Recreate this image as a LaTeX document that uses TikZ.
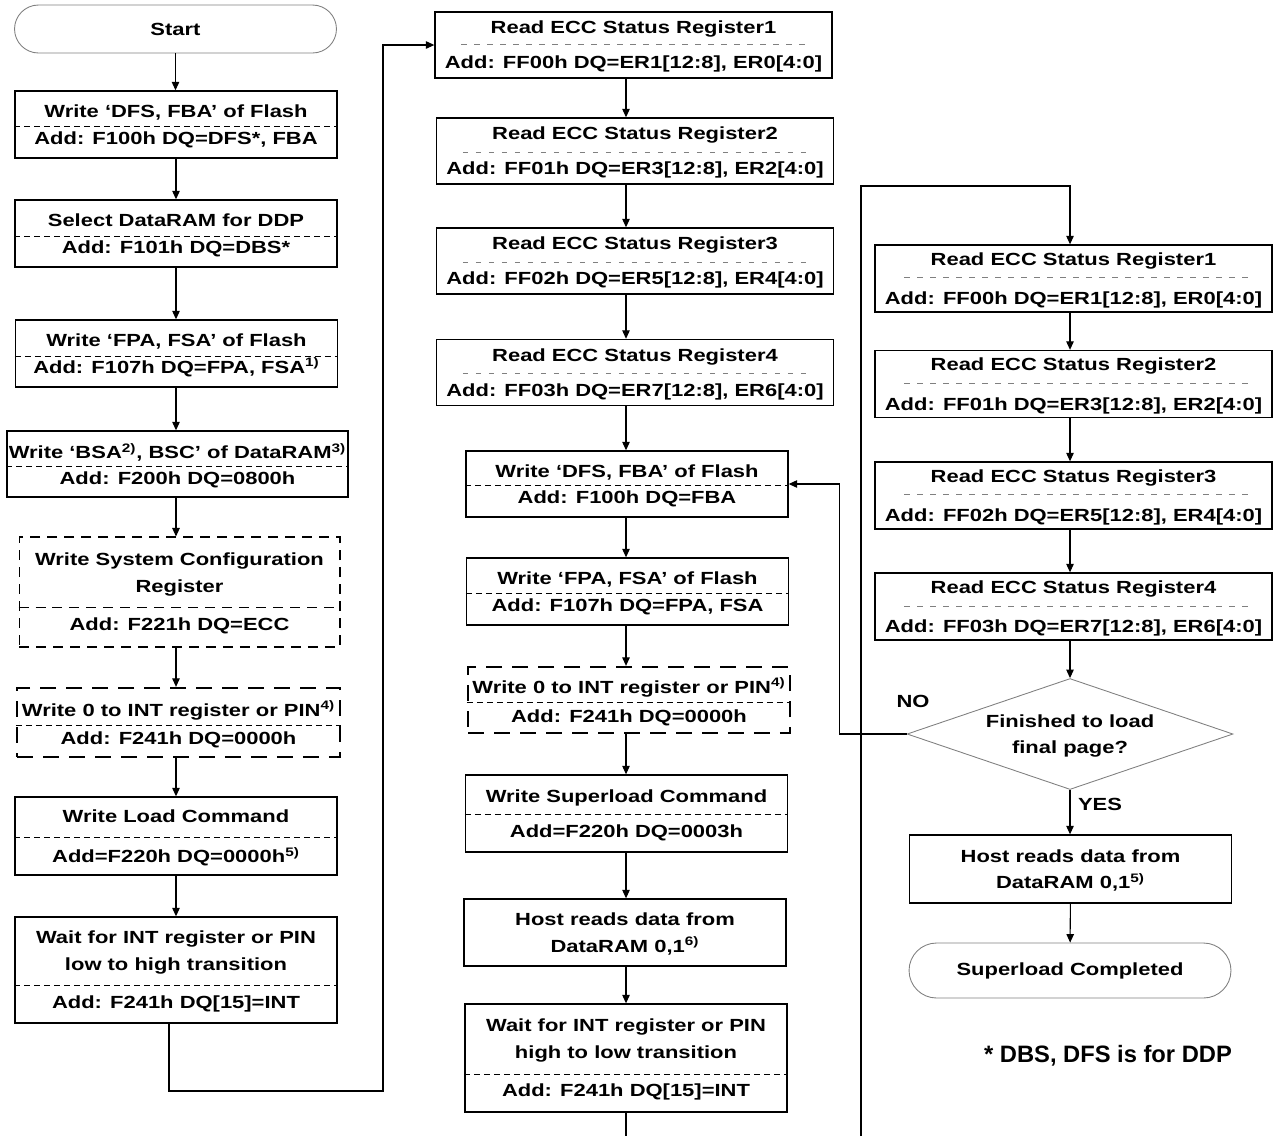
\documentclass[tikz,border=0pt]{standalone}
\usepackage{fontspec}
\setmainfont{Liberation Sans}[FakeStretch=1.25]
\newfontfamily\notefont{Liberation Sans}
\usetikzlibrary{arrows.meta,shapes.geometric}

\begin{document}
\begin{tikzpicture}[
  x=0.02cm, y=-0.02cm,
  font=\fontsize{10}{15}\selectfont\bfseries,
  stepbox/.style={
    draw,
    line width=0.8pt,
    align=center,
    text depth=0pt,
    inner sep=1pt,
    minimum width=6.44cm,
    minimum height=1.34cm
  },
  eccbox/.style={stepbox, minimum width=7.94cm, minimum height=1.32cm},
  thindash/.style={stepbox, line width=0.6pt, dash pattern=on 2mm off 1.4mm},
  thickdash/.style={stepbox, line width=1.3pt, dash pattern=on 3.2mm off 2mm},
  terminal/.style={
    draw=gray,
    line width=0.5pt,
    rounded corners=0.48cm,
    minimum width=6.44cm,
    minimum height=0.96cm
  },
  decision/.style={
    draw=gray,
    line width=0.5pt,
    diamond,
    aspect=2.94,
    inner sep=0pt,
    minimum width=6.52cm,
    minimum height=2.22cm,
    align=center,
    text depth=0pt
  },
  sepline/.style={line width=0.5pt, dash pattern=on 1.2mm off 0.8mm},
  eccsep/.style={gray, line width=0.5pt, dash pattern=on 1.1mm off 1.5mm},
  arrow/.style={-{Triangle[length=1.7mm,width=1.5mm]}, line width=0.6pt},
  wire/.style={line width=0.6pt}
]
\useasboundingbox (0,0) rectangle (1273,1136);

% load column
\node[terminal] (start) at (175.5,29) {Start};
\node[stepbox] (flashaddr) at (176,124.5) {Write ‘DFS, FBA’ of Flash\\Add: F100h DQ=DFS*, FBA};
\node[stepbox] (ddpsel) at (176,233.5) {Select DataRAM for DDP\\Add: F101h DQ=DBS*};
\node[stepbox] (pageaddr) at (176.5,353.5) {Write ‘FPA, FSA’ of Flash\\Add: F107h DQ=FPA, FSA\textsuperscript{1)}};
\node[stepbox, minimum width=6.82cm, minimum height=1.32cm] (bufaddr) at (177.5,464) {Write ‘BSA\textsuperscript{2)}, BSC’ of DataRAM\textsuperscript{3)}\\Add: F200h DQ=0800h};
\node[thindash, minimum width=6.42cm, minimum height=2.2cm] (syscfg) at (179.5,592) {Write System Configuration\\Register\\[7pt]Add: F221h DQ=ECC};
\node[thickdash, minimum width=6.46cm, minimum height=1.38cm] (intclr) at (178.5,722.5) {Write 0 to INT register or PIN\textsuperscript{4)}\\[1pt]Add: F241h DQ=0000h};
\node[stepbox, minimum height=1.56cm] (loadcmd) at (176,836) {Write Load Command\\[8pt]Add=F220h DQ=0000h\textsuperscript{5)}};
\node[stepbox, minimum height=2.12cm] (loadwait) at (176,970) {Wait for INT register or PIN\\low to high transition\\[7pt]Add: F241h DQ[15]=INT};

% superload column
\node[eccbox] (ecca1) at (633.5,45) {Read ECC Status Register1\\[5pt]Add: FF00h DQ=ER1[12:8], ER0[4:0]};
\node[eccbox] (ecca2) at (635,151) {Read ECC Status Register2\\[5pt]Add: FF01h DQ=ER3[12:8], ER2[4:0]};
\node[eccbox] (ecca3) at (635,261) {Read ECC Status Register3\\[5pt]Add: FF02h DQ=ER5[12:8], ER4[4:0]};
\node[eccbox] (ecca4) at (635,372.5) {Read ECC Status Register4\\[5pt]Add: FF03h DQ=ER7[12:8], ER6[4:0]};
\node[stepbox, minimum height=1.32cm] (nextblk) at (627,484) {Write ‘DFS, FBA’ of Flash\\Add: F100h DQ=FBA};
\node[stepbox] (nextpage) at (627.5,591.5) {Write ‘FPA, FSA’ of Flash\\Add: F107h DQ=FPA, FSA};
\node[thickdash, minimum height=1.32cm] (intclrb) at (629,700) {Write 0 to INT register or PIN\textsuperscript{4)}\\[1.5pt]Add: F241h DQ=0000h};
\node[stepbox, minimum height=1.54cm] (supercmd) at (626.5,813.5) {Write Superload Command\\[5pt]Add=F220h DQ=0003h};
\node[stepbox] (hostreada) at (625,932.5) {Host reads data from\\DataRAM 0,1\textsuperscript{6)}};
\node[stepbox, minimum height=2.16cm] (superwait) at (626,1058) {Wait for INT register or PIN\\high to low transition\\[7pt]Add: F241h DQ[15]=INT};

% last page column
\node[eccbox, minimum height=1.34cm] (eccb1) at (1073.5,278.5) {Read ECC Status Register1\\[7.5pt]Add: FF00h DQ=ER1[12:8], ER0[4:0]};
\node[eccbox, minimum height=1.34cm] (eccb2) at (1073.5,384) {Read ECC Status Register2\\[7.5pt]Add: FF01h DQ=ER3[12:8], ER2[4:0]};
\node[eccbox, minimum height=1.34cm] (eccb3) at (1073.5,495.5) {Read ECC Status Register3\\[7.5pt]Add: FF02h DQ=ER5[12:8], ER4[4:0]};
\node[eccbox, minimum height=1.34cm] (eccb4) at (1073.5,606.5) {Read ECC Status Register4\\[7.5pt]Add: FF03h DQ=ER7[12:8], ER6[4:0]};
\node[decision] (lastpage) at (1070,734) {Finished to load\\final page?};
\node[stepbox, minimum height=1.36cm] (hostreadb) at (1070.5,869) {Host reads data from\\DataRAM 0,1\textsuperscript{5)}};
\node[terminal, minimum height=1.1cm, rounded corners=0.55cm] (done) at (1070,970.5) {Superload Completed};
\node (no) at (913,701) {NO};
\node (yes) at (1100,804) {YES};
\node[font=\notefont\bfseries\fontsize{13.5}{16}\selectfont] (note) at (1108,1056) {* DBS, DFS is for DDP};

% dashed separators
\draw[sepline] (flashaddr.west |- 0,126) -- (flashaddr.east |- 0,126);
\draw[sepline] (ddpsel.west |- 0,236) -- (ddpsel.east |- 0,236);
\draw[sepline] (pageaddr.west |- 0,356) -- (pageaddr.east |- 0,356);
\draw[sepline] (bufaddr.west |- 0,466) -- (bufaddr.east |- 0,466);
\draw[sepline, dash pattern=on 2mm off 1.4mm] (syscfg.west |- 0,607) -- (syscfg.east |- 0,607);
\draw[sepline] (intclr.west |- 0,725) -- (intclr.east |- 0,725);
\draw[sepline] (loadcmd.west |- 0,837) -- (loadcmd.east |- 0,837);
\draw[sepline] (loadwait.west |- 0,985) -- (loadwait.east |- 0,985);
\draw[eccsep] (ecca1.west |- 0,44) ++(27,0) -- ++(348,0);
\draw[eccsep] (ecca2.west |- 0,152) ++(27,0) -- ++(348,0);
\draw[eccsep] (ecca3.west |- 0,262) ++(27,0) -- ++(348,0);
\draw[eccsep] (ecca4.west |- 0,373) ++(27,0) -- ++(348,0);
\draw[sepline] (nextblk.west |- 0,485) -- (nextblk.east |- 0,485);
\draw[sepline] (nextpage.west |- 0,593) -- (nextpage.east |- 0,593);
\draw[sepline] (intclrb.west |- 0,702) -- (intclrb.east |- 0,702);
\draw[sepline] (supercmd.west |- 0,814) -- (supercmd.east |- 0,814);
\draw[sepline] (superwait.west |- 0,1074) -- (superwait.east |- 0,1074);
\draw[eccsep] (eccb1.west |- 0,277) ++(30,0) -- ++(345,0);
\draw[eccsep] (eccb2.west |- 0,383) ++(30,0) -- ++(345,0);
\draw[eccsep] (eccb3.west |- 0,494) ++(30,0) -- ++(345,0);
\draw[eccsep] (eccb4.west |- 0,606) ++(30,0) -- ++(345,0);

% flow
\coordinate (jump) at (383,1091);
\coordinate (exitmid) at (626,1136);
\coordinate (entryright) at (861,1136);
\coordinate (topright) at (861,186);

\draw[arrow] (start) -- (start |- flashaddr.north);
\draw[arrow] (flashaddr) -- (flashaddr |- ddpsel.north);
\draw[arrow] (ddpsel) -- (ddpsel |- pageaddr.north);
\draw[arrow] (pageaddr.south -| ddpsel) -- (bufaddr.north -| ddpsel);
\draw[arrow] (bufaddr.south -| ddpsel) -- (syscfg.north -| ddpsel);
\draw[arrow] (syscfg.south -| ddpsel) -- (intclr.north -| ddpsel);
\draw[arrow] (intclr.south -| ddpsel) -- (loadcmd.north -| ddpsel);
\draw[arrow] (loadcmd) -- (loadwait);
\draw[arrow] ([xshift=-0.14cm]loadwait.south) |- (jump) |- (ecca1.west);

\draw[arrow] (ecca1.south -| superwait) -- (ecca2.north -| superwait);
\draw[arrow] (ecca2.south -| superwait) -- (ecca3.north -| superwait);
\draw[arrow] (ecca3.south -| superwait) -- (ecca4.north -| superwait);
\draw[arrow] (ecca4.south -| superwait) -- (nextblk.north -| superwait);
\draw[arrow] (nextblk.south -| superwait) -- (nextpage.north -| superwait);
\draw[arrow] (nextpage.south -| superwait) -- (intclrb.north -| superwait);
\draw[arrow] (intclrb.south -| superwait) -- (supercmd.north -| superwait);
\draw[arrow] (supercmd.south -| superwait) -- (hostreada.north -| superwait);
\draw[arrow] (hostreada.south -| superwait) -- (superwait.north);
\draw[wire] (superwait) -- (exitmid);

\draw[arrow] (entryright) -- (topright) -| (eccb1.north -| lastpage);
\draw[arrow] (eccb1.south -| lastpage) -- (eccb2.north -| lastpage);
\draw[arrow] (eccb2.south -| lastpage) -- (eccb3.north -| lastpage);
\draw[arrow] (eccb3.south -| lastpage) -- (eccb4.north -| lastpage);
\draw[arrow] (eccb4.south -| lastpage) -- (lastpage.north);
\draw[arrow] (lastpage.south) -- (hostreadb.north -| lastpage);
\draw[arrow] (hostreadb) -- (done);
\draw[arrow] (lastpage.west) -- ++(-67,0) |- (nextblk.east);
\end{tikzpicture}
\end{document}
